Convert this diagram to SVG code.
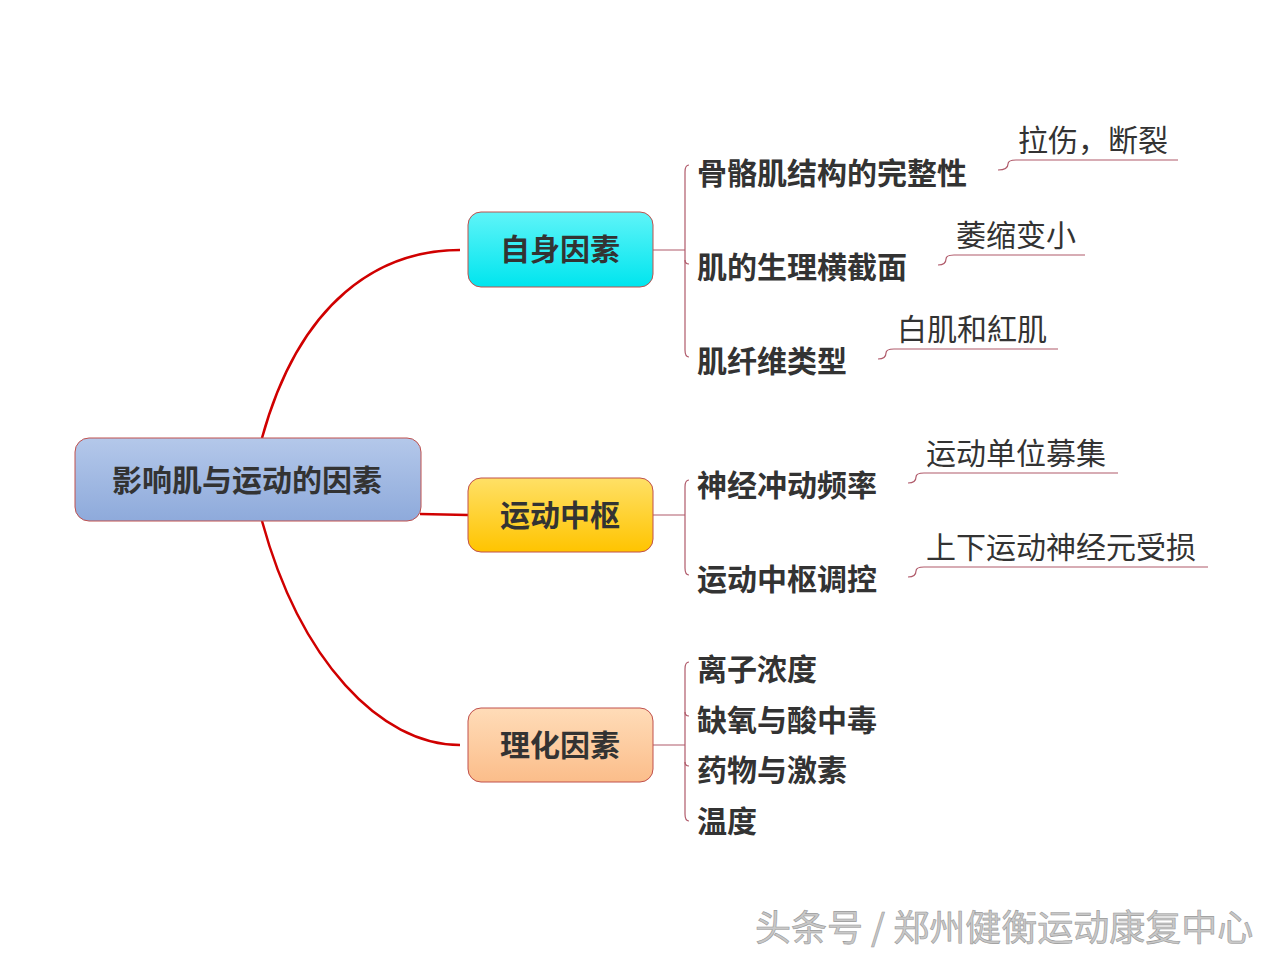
<svg xmlns="http://www.w3.org/2000/svg" width="1280" height="960" viewBox="0 0 1280 960">
<defs>
<linearGradient id="gRoot" x1="0" y1="0" x2="0" y2="1"><stop offset="0" stop-color="#b4c8ea"/><stop offset="1" stop-color="#8eaadb"/></linearGradient>
<linearGradient id="gCyan" x1="0" y1="0" x2="0" y2="1"><stop offset="0" stop-color="#5ff4f8"/><stop offset="1" stop-color="#00e5ee"/></linearGradient>
<linearGradient id="gYel" x1="0" y1="0" x2="0" y2="1"><stop offset="0" stop-color="#ffe066"/><stop offset="1" stop-color="#ffc400"/></linearGradient>
<linearGradient id="gOr" x1="0" y1="0" x2="0" y2="1"><stop offset="0" stop-color="#ffdcb8"/><stop offset="1" stop-color="#fbbd8a"/></linearGradient>
</defs>
<style>
text{font-family:"Noto Sans CJK SC","Noto Sans",sans-serif}
.b{font-weight:bold;fill:#333;font-size:30px}
.n{fill:#333;font-size:30px}
.box{stroke:#c0504d;stroke-width:1}
.main{fill:none;stroke:#d00000;stroke-width:2.5}
.thin{fill:none;stroke:#b05a6a;stroke-width:1.2}
.wm{fill:#c8c8c8;font-size:36px;stroke:#999;stroke-width:0.6}
</style>
<rect width="1280" height="960" fill="#fff"/>
<g id="connectors">
<path class="main" d="M262,438 C300,300 380,250 460,250"/>
<path class="main" d="M262,521 C300,660 380,745 460,745"/>
<path class="main" d="M420,514 L468,515" stroke-width="1.5"/>
<path class="thin" d="M653,250 H685 M689,165 Q685,165 685,172 V350 Q685,357 689,357"/>
<path class="thin" d="M685,260 Q685,264 689,264"/>
<path class="thin" d="M653,515 H685 M689,480 Q685,480 685,487 V568 Q685,575 689,575"/>
<path class="thin" d="M653,745 H685 M689,662 Q685,662 685,669 V814 Q685,821 689,821"/>
<path class="thin" d="M685,712 Q685,716 689,716 M685,762 Q685,766 689,766"/>
<path class="thin" d="M998,170 Q1008,170 1008,164 Q1008,160 1016,160 H1178"/>
<path class="thin" d="M938,265 Q946,265 946,259 Q946,255 954,255 H1085"/>
<path class="thin" d="M878,359 Q886,359 886,353 Q886,349 894,349 H1058"/>
<path class="thin" d="M908,483 Q916,483 916,477 Q916,473 924,473 H1118"/>
<path class="thin" d="M908,577 Q916,577 916,571 Q916,567 924,567 H1208"/>
</g>
<g id="root"><rect class="box" x="75" y="438" width="346" height="83" rx="14" fill="url(#gRoot)"/><text class="b" x="247" y="491" text-anchor="middle" font-size="30.5">影响肌与运动的因素</text></g>
<g id="n1"><rect class="box" x="468" y="212" width="185" height="75" rx="13" fill="url(#gCyan)"/><text class="b" x="560" y="260" text-anchor="middle">自身因素</text></g>
<g id="n2"><rect class="box" x="468" y="478" width="185" height="74" rx="13" fill="url(#gYel)"/><text class="b" x="560" y="526" text-anchor="middle">运动中枢</text></g>
<g id="n3"><rect class="box" x="468" y="708" width="185" height="74" rx="13" fill="url(#gOr)"/><text class="b" x="560" y="756" text-anchor="middle">理化因素</text></g>
<g id="leaves">
<text class="b" x="697" y="184">骨骼肌结构的完整性</text>
<text class="b" x="697" y="278">肌的生理横截面</text>
<text class="b" x="697" y="372">肌纤维类型</text>
<text class="b" x="697" y="496">神经冲动频率</text>
<text class="b" x="697" y="590">运动中枢调控</text>
<text class="b" x="697" y="680">离子浓度</text>
<text class="b" x="697" y="731">缺氧与酸中毒</text>
<text class="b" x="697" y="781">药物与激素</text>
<text class="b" x="697" y="832">温度</text>
<text class="n" x="1018" y="151">拉伤，断裂</text>
<text class="n" x="956" y="246">萎缩变小</text>
<text class="n" x="897" y="340">白肌和紅肌</text>
<text class="n" x="926" y="464">运动单位募集</text>
<text class="n" x="926" y="558">上下运动神经元受损</text>
</g>
<text class="wm" x="755" y="941">头条号 / 郑州健衡运动康复中心</text>
</svg>
